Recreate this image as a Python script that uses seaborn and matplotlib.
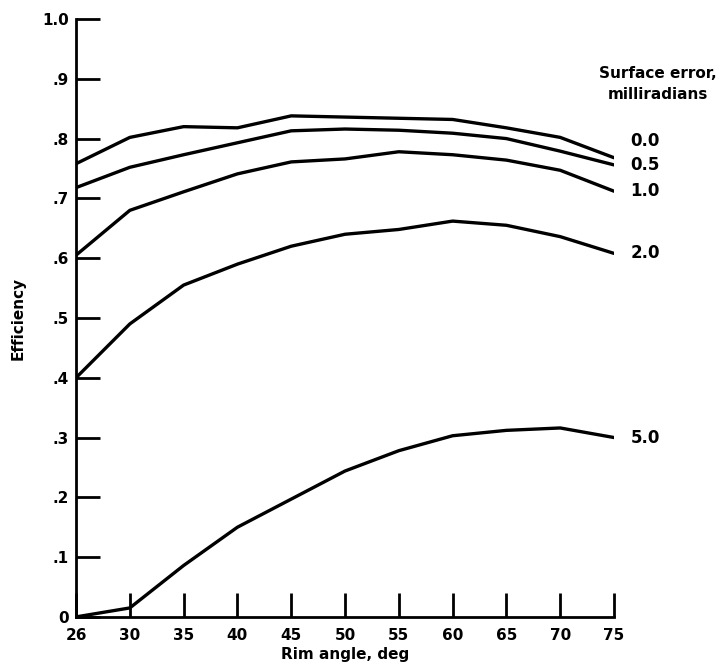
import numpy as np
import pandas as pd
import seaborn as sns
import matplotlib.pyplot as plt

# Rim angle (deg); the first axis division is labelled 26 but drawn as a full 5-deg step
rim_angle = [26, 30, 35, 40, 45, 50, 55, 60, 65, 70, 75]
axis_pos = [25, 30, 35, 40, 45, 50, 55, 60, 65, 70, 75]

surface_error = ["0.0", "0.5", "1.0", "2.0", "5.0"]
eff_00 = [0.758, 0.802, 0.820, 0.818, 0.838, 0.836, 0.834, 0.832, 0.818, 0.802, 0.768]
eff_05 = [0.718, 0.752, 0.773, 0.793, 0.813, 0.816, 0.814, 0.809, 0.800, 0.779, 0.756]
eff_10 = [0.605, 0.680, 0.711, 0.741, 0.761, 0.766, 0.778, 0.773, 0.764, 0.747, 0.712]
eff_20 = [0.400, 0.490, 0.555, 0.590, 0.620, 0.640, 0.648, 0.662, 0.655, 0.636, 0.608]
eff_50 = [0.000, 0.015, 0.086, 0.150, 0.197, 0.244, 0.278, 0.303, 0.312, 0.316, 0.300]

y_ticks = [0, 0.1, 0.2, 0.3, 0.4, 0.5, 0.6, 0.7, 0.8, 0.9, 1.0]
y_labels = ["0", ".1", ".2", ".3", ".4", ".5", ".6", ".7", ".8", ".9", "1.0"]

series = [eff_00, eff_05, eff_10, eff_20, eff_50]
df = pd.concat([
    pd.DataFrame({"pos": axis_pos, "angle": rim_angle, "eff": vals, "err": name})
    for name, vals in zip(surface_error, series)
])

sns.set_style("white")
plt.rcParams["font.family"] = ["DejaVu Sans"]
plt.rcParams["font.weight"] = "bold"
plt.rcParams["text.color"] = "black"

fig = plt.figure(figsize=(7.2, 6.72), dpi=100)
ax = fig.add_axes([0.1056, 0.082, 0.7472, 0.8897])

sns.lineplot(data=df, x="pos", y="eff", hue="err", palette=["black"] * 5,
             linewidth=2.4, legend=False, ax=ax, sort=False)

ax.set_xlim(25, 75)
ax.set_ylim(0, 1.0)
ax.set_xticks(axis_pos)
ax.set_xticklabels([str(a) for a in rim_angle])
ax.set_yticks(y_ticks)
ax.set_yticklabels(y_labels)
ax.tick_params(bottom=True, left=True, direction="in", length=17, width=2.0,
               labelsize=11, colors="black")
ax.tick_params(axis="x", pad=8)
ax.tick_params(axis="y", pad=5)
for s in ["top", "right"]:
    ax.spines[s].set_visible(False)
for s in ["left", "bottom"]:
    ax.spines[s].set_linewidth(2.0)
    ax.spines[s].set_color("black")

ax.set_xlabel("Rim angle, deg", fontsize=11, fontweight="bold", labelpad=3, color="black")
ax.set_ylabel("Efficiency", fontsize=11, fontweight="bold", labelpad=12, color="black")

# curve labels at right end
offsets = [12, 0, 0, 0, 0]
for name, vals, dy in zip(surface_error, series, offsets):
    ax.annotate(name, (axis_pos[-1], vals[-1]), xytext=(12, dy),
                textcoords="offset points", va="center", ha="left",
                fontsize=12, fontweight="bold")

fig.text(0.914, 0.875, "Surface error,\nmilliradians", ha="center", va="center",
         fontsize=11, fontweight="bold", linespacing=1.45)

fig.savefig("out.png", dpi=100, facecolor="white")
